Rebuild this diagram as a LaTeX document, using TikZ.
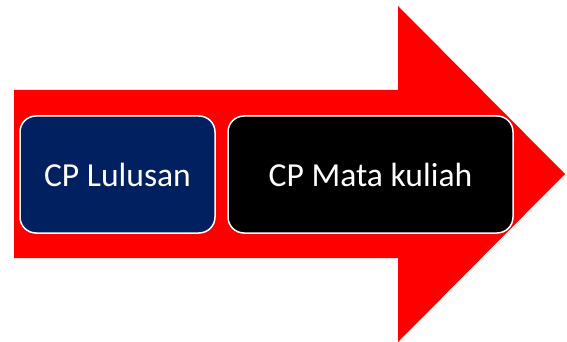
\documentclass[tikz,border=0pt]{standalone}
\usepackage{fontspec}
\setmainfont{Carlito}
\definecolor{navy}{HTML}{002060}
\begin{document}
\begin{tikzpicture}[x=1pt,y=-1pt,
  box/.style={draw=white,line width=1.5pt,rounded corners=16pt,text=white,font=\fontsize{33.6}{40}\selectfont,inner sep=0pt}]
\useasboundingbox (0,0) rectangle (567,342);
\fill[red] (14,90) -- (398,90) -- (398,6) -- (565,174) -- (398,342) -- (398,258) -- (14,258) -- cycle;
\node[box,fill=navy,minimum width=195pt,minimum height=117pt] (a) at (117.5,174.5) {CP Lulusan};
\node[box,fill=black,minimum width=285pt,minimum height=117pt] (b) at (370.5,174.5) {CP Mata kuliah};
\end{tikzpicture}
\end{document}
